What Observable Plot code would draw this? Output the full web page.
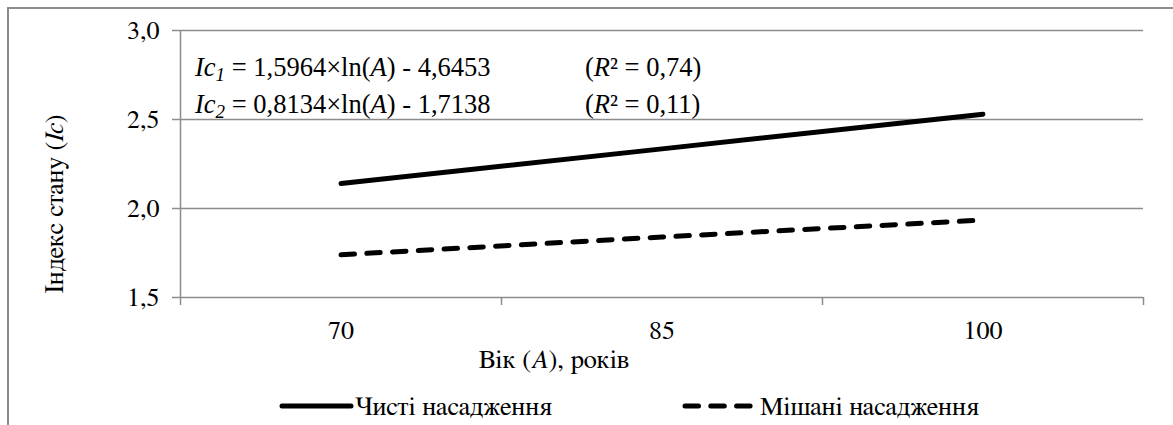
<!DOCTYPE html>
<html><head><meta charset="utf-8">
<script src="https://cdn.jsdelivr.net/npm/d3@7"></script>
<script src="https://cdn.jsdelivr.net/npm/@observablehq/plot@0.6"></script>
<style>
body{margin:0;background:#fff}
svg{display:block}
</style>
</head><body><div id="chart"></div>
<script>
const ages = ["70", "85", "100"];
const pureValues = [2.14, 2.335, 2.53];
const mixedValues = [1.74, 1.84, 1.935];
const seriesNames = ["Чисті насадження", "Мішані насадження"];
const yTicks = [1.5, 2.0, 2.5, 3.0];

const rows = [];
ages.forEach((a, i) => {
  rows.push({series: seriesNames[0], i, age: a, v: pureValues[i]});
  rows.push({series: seriesNames[1], i, age: a, v: mixedValues[i]});
});

const fmt = d => d3.format(".1f")(d).replace(".", ",");
const grid = "#8c8c8c";
const FAM = "FreeSerif";
const EQFAM = "Liberation Serif";

const plot = Plot.plot({
  width: 1173, height: 425,
  marginLeft: 180, marginRight: 30, marginTop: 30, marginBottom: 128,
  style: {fontSize: "26px", color: "#000", background: "#fff", overflow: "visible"},
  x: {type: "linear", domain: [0, ages.length], axis: null},
  y: {domain: [1.5, 3.0], axis: null},
  marks: [
    Plot.ruleY(yTicks, {stroke: grid, strokeWidth: 1.5}),
    Plot.ruleX([0], {y1: 1.5, y2: 3.0, stroke: grid, strokeWidth: 1.5}),
    Plot.axisY({ticks: yTicks, tickFormat: fmt, tickSize: 8, tickPadding: 13, stroke: grid, strokeWidth: 1.5, fontSize: 26, label: null, fontVariant: "normal"}),
    Plot.axisX({ticks: d3.range(ages.length + 1), tickFormat: () => "", tickSize: 8, stroke: grid, strokeWidth: 1.5, label: null}),
    Plot.axisX({ticks: ages.map((a, i) => i + 0.5), tickFormat: d => ages[Math.floor(d)], tickSize: 0, tickPadding: 23, fontSize: 26, label: null, fontVariant: "normal"}),
    Plot.line(rows.filter(d => d.series === seriesNames[0]), {x: d => d.i + 0.5, y: "v", stroke: "#000", strokeWidth: 5, strokeLinecap: "round"}),
    Plot.line(rows.filter(d => d.series === seriesNames[1]), {x: d => d.i + 0.5, y: "v", stroke: "#000", strokeWidth: 5, strokeLinecap: "round", strokeDasharray: "13.5,12.3"})
  ]
});

const svg = d3.select(plot);
svg.insert("rect", ":first-child").attr("x", 8).attr("y", 8).attr("width", 1300).attr("height", 600)
  .attr("fill", "none").attr("stroke", "#8c8c8c").attr("stroke-width", 2);

// make Plot's own tick labels use the serif family
svg.selectAll("g[aria-label$='text']").attr("font-variant", null).attr("font-family", FAM);
svg.selectAll("text").attr("font-family", FAM).attr("style", `font-family: ${FAM}; font-variant: normal`);

function rich(x, y, parts, opts = {}) {
  const fam = opts.fam || FAM;
  const t = svg.append("text").attr("x", x).attr("y", y)
    .attr("font-size", opts.size || 26).attr("fill", "#000")
    .attr("text-anchor", opts.anchor || "start")
    .attr("font-family", fam).attr("style", `font-family: '${fam}'`);
  if (opts.transform) t.attr("transform", opts.transform);
  parts.forEach(p => {
    const s = t.append("tspan").text(p.t);
    if (p.i) s.attr("font-style", "italic");
    if (p.sub) s.attr("font-size", p.sub);
    if (p.dy) s.attr("dy", p.dy);
  });
  return t;
}

// trend equations
rich(195, 76, [{t: "Ic", i: 1}, {t: "1", i: 1, sub: 19, dy: 5}, {t: " = 1,5964×ln(", dy: -5}, {t: "A", i: 1}, {t: ") - 4,6453"}], {size: 26.5, fam: EQFAM});
rich(195, 113, [{t: "Ic", i: 1}, {t: "2", i: 1, sub: 19, dy: 5}, {t: " = 0,8134×ln(", dy: -5}, {t: "A", i: 1}, {t: ") - 1,7138"}], {size: 26.5, fam: EQFAM});
rich(585, 76, [{t: "("}, {t: "R", i: 1}, {t: "² = 0,74)"}], {size: 26.5, fam: EQFAM});
rich(585, 113, [{t: "("}, {t: "R", i: 1}, {t: "² = 0,11)"}], {size: 26.5, fam: EQFAM});

// axis titles
rich(554, 368, [{t: "Вік ("}, {t: "A", i: 1}, {t: "), років"}], {anchor: "middle", size: 26.5});
rich(0, 0, [{t: "Індекс стану ("}, {t: "Ic", i: 1}, {t: ")"}], {anchor: "middle", size: 26.5, transform: "translate(63,204) rotate(-90)"});

// legend
svg.append("line").attr("x1", 282).attr("x2", 351).attr("y1", 406).attr("y2", 406)
  .attr("stroke", "#000").attr("stroke-width", 5).attr("stroke-linecap", "round");
rich(355, 415, [{t: seriesNames[0]}], {size: 26.5});
svg.append("line").attr("x1", 685).attr("x2", 752).attr("y1", 406).attr("y2", 406)
  .attr("stroke", "#000").attr("stroke-width", 5).attr("stroke-linecap", "round").attr("stroke-dasharray", "13.5,12.3");
rich(760, 415, [{t: seriesNames[1]}], {size: 26.5});

document.getElementById("chart").appendChild(plot);
</script>
</body></html>
